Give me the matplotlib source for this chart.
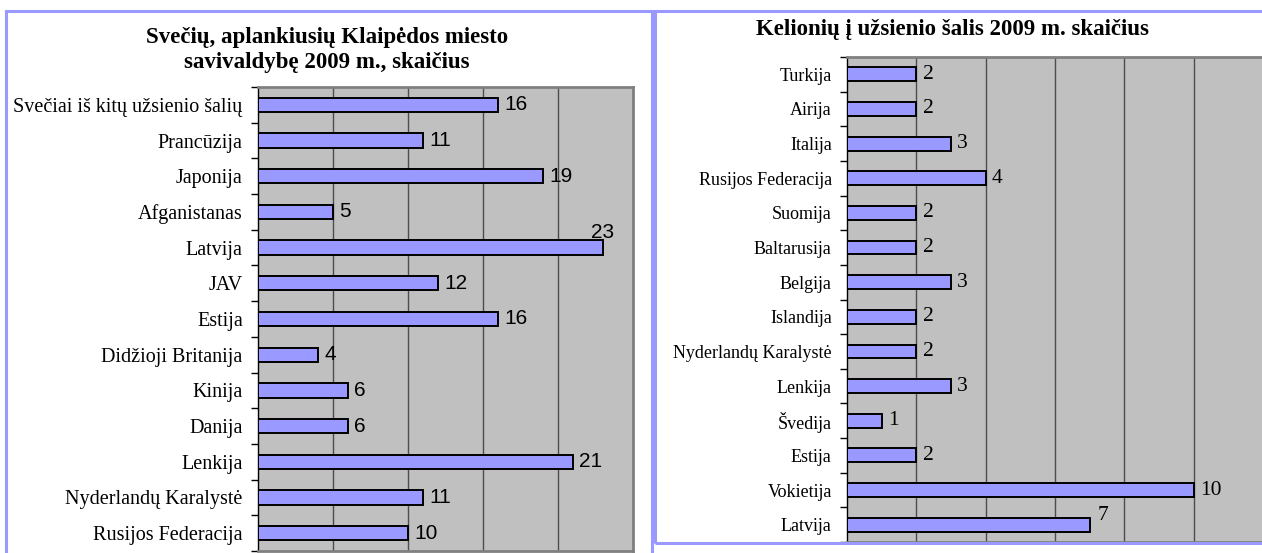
import numpy as np
import matplotlib
matplotlib.use('Agg')
import matplotlib.pyplot as plt
from matplotlib.patches import Rectangle

# left chart: guests who visited Klaipeda in 2009
guest_countries = ['Svečiai iš kitų užsienio šalių', 'Prancūzija', 'Japonija', 'Afganistanas',
                   'Latvija', 'JAV', 'Estija', 'Didžioji Britanija', 'Kinija', 'Danija',
                   'Lenkija', 'Nyderlandų Karalystė', 'Rusijos Federacija']
guest_counts = [16, 11, 19, 5, 23, 12, 16, 4, 6, 6, 21, 11, 10]

# right chart: trips abroad in 2009
trip_countries = ['Turkija', 'Airija', 'Italija', 'Rusijos Federacija', 'Suomija', 'Baltarusija',
                  'Belgija', 'Islandija', 'Nyderlandų Karalystė', 'Lenkija', 'Švedija', 'Estija',
                  'Vokietija', 'Latvija']
trip_counts = [2, 2, 3, 4, 2, 2, 3, 2, 2, 3, 1, 2, 10, 7]

W, H = 1262, 553
fig = plt.figure(figsize=(W / 100, H / 100), dpi=100)
fig.patch.set_facecolor('white')

serif = ['Liberation Serif', 'DejaVu Serif']
sans = ['Liberation Sans', 'DejaVu Sans']


def px(x0, y0, x1, y1):
    # pixel box -> figure fraction [left, bottom, width, height]
    return [x0 / W, 1 - y1 / H, (x1 - x0) / W, (y1 - y0) / H]


def bar_panel(ax, cats, vals, xmax, step, cat_size, lab_font, lab_size, above):
    n = len(cats)
    pos = np.arange(n)
    ax.set_facecolor('#c0c0c0')
    ax.barh(pos, vals, height=0.4, color='#9999ff', edgecolor='black', linewidth=1.4, zorder=3)
    ax.set_xlim(0, xmax)
    ax.set_ylim(n - 0.5, -0.5)
    ax.set_xticks(np.arange(step, xmax + 0.01, step))
    ax.xaxis.grid(True, color='#4d4d4d', linewidth=1.0, zorder=1)
    ax.tick_params(axis='x', length=0, labelbottom=False)
    ax.set_yticks(pos)
    ax.set_yticklabels(cats, family=serif, fontsize=cat_size)
    ax.tick_params(axis='y', which='major', length=0, pad=11)
    ax.set_yticks(np.arange(n + 1) - 0.5, minor=True)
    ax.tick_params(axis='y', which='minor', length=5, width=1, color='black', direction='out')
    for s in ['top', 'right', 'bottom']:
        ax.spines[s].set_color('#808080')
        ax.spines[s].set_linewidth(2)
    ax.spines['left'].set_color('black')
    ax.spines['left'].set_linewidth(1)
    for i, v in enumerate(vals):
        if cats[i] in above:
            dx, dy, ha = above[cats[i]]
            ax.annotate(str(v), (v, i), xytext=(dx, dy), textcoords='offset points',
                        ha=ha, va='bottom', family=lab_font, fontsize=lab_size)
        else:
            ax.annotate(str(v), (v, i), xytext=(4.5, 0), textcoords='offset points',
                        ha='left', va='center', family=lab_font, fontsize=lab_size)


axl = fig.add_axes(px(258, 87, 633, 551))
bar_panel(axl, guest_countries, guest_counts, 25, 5, 14.5, sans, 15, {'Latvija': (0, 4, 'center')})

axr = fig.add_axes(px(847, 57, 847 + 12 * 34.65, 542))
bar_panel(axr, trip_countries, trip_counts, 12, 2, 13, serif, 15.5, {'Latvija': (6, 0, 'left')})

# panel frames
for (x0, y0, x1, y1) in [(6, 11, 652, 560), (655, 11, 1270, 543)]:
    fig.patches.append(Rectangle((x0 / W, 1 - y1 / H), (x1 - x0) / W, (y1 - y0) / H,
                                 transform=fig.transFigure, fill=False,
                                 edgecolor='#9999ff', linewidth=2.2, zorder=0))

fig.text(327 / W, 1 - 38 / H, 'Svečių, aplankiusių Klaipėdos miesto', ha='center', va='center',
         family=serif, fontsize=16.5, fontweight='bold')
fig.text(327 / W, 1 - 63 / H, 'savivaldybę 2009 m., skaičius', ha='center', va='center',
         family=serif, fontsize=16.5, fontweight='bold')
fig.text(952 / W, 1 - 30 / H, 'Kelionių į užsienio šalis 2009 m. skaičius', ha='center', va='center',
         family=serif, fontsize=16.5, fontweight='bold')

fig.savefig('out.png', dpi=100)
